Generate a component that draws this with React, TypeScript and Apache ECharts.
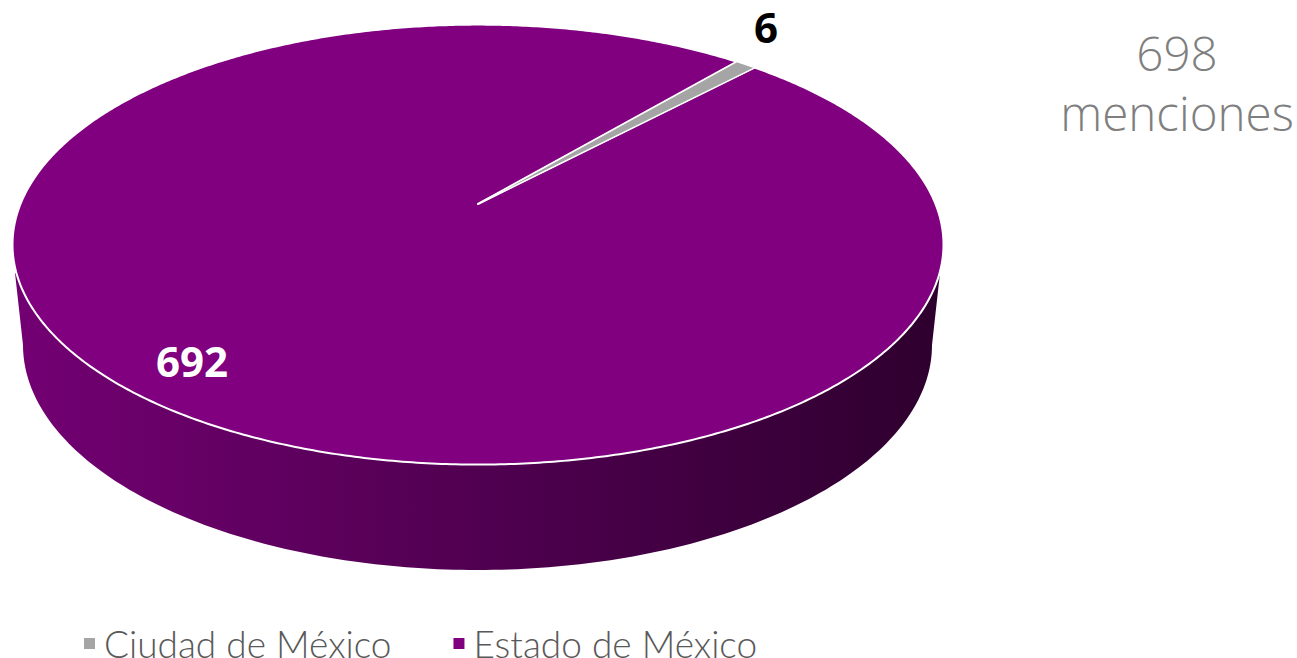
import React, { useEffect, useRef } from "react";
import * as echarts from "echarts";

const categories = ["Ciudad de México", "Estado de México"];
const values = [6, 692];
const sliceColors = ["#a5a5a5", "#800080"];
const labelColors = ["#000000", "#ffffff"];
const totalLines = ["698", "menciones"];

const START_DEG = 40.2;
// Perspective model of the pie's top disc
const APEX = { x: 478, y: 204 };
const P = 0.1845;
const A = 457.5;
const B = 212.5;
const TOP = { cx: 477.5, cy: 244.5, rx: 464.5, ry: 219.5 };
const BOTTOM = { cx: 477.5, cy: 345, rx: 454.5, ry: 225 };
const LABEL_POS = [
  { x: 766, y: 26 },
  { x: 192, y: 360 },
];
const STROKE_WIDTHS = [1.1, 2];

const project = (deg: number) => {
  const t = (deg * Math.PI) / 180;
  const u = Math.sin(t);
  const v = Math.cos(t);
  const w = 1 + P * v;
  return [APEX.x + (A * u) / w, APEX.y - (B * v) / w];
};

const total = values.reduce((s, v) => s + v, 0);

const makeRenderItem = (index: number) => (_params: any, api: any) => {
  const value = api.value(0);
  const before = values.slice(0, index).reduce((s, v) => s + v, 0);
  const a0 = START_DEG + (before / total) * 360;
  const a1 = a0 + (value / total) * 360;
  const pts: number[][] = [[APEX.x, APEX.y]];
  const steps = Math.max(4, Math.round((a1 - a0) * 2));
  for (let i = 0; i <= steps; i++) pts.push(project(a0 + ((a1 - a0) * i) / steps));

  const children: any[] = [];
  // The wall is only visible under the slice that covers the front of the pie.
  if (a0 < 90 && a1 > 270) {
    const wall: number[][] = [];
    for (let d = 0; d <= 180; d += 1) {
      const t = (d * Math.PI) / 180;
      wall.push([BOTTOM.cx + BOTTOM.rx * Math.cos(t), BOTTOM.cy + BOTTOM.ry * Math.sin(t)]);
    }
    wall.push([15, 273]);
    wall.push([TOP.cx, TOP.cy]);
    wall.push([940, 273]);
    children.push({
      type: "polygon",
      shape: { points: wall },
      style: {
        fill: new echarts.graphic.LinearGradient(0, 0, 1, 0, [
          { offset: 0, color: "#730073" },
          { offset: 1, color: "#2e002e" },
        ]),
      },
    });
  }
  children.push({
    type: "polygon",
    shape: { points: pts },
    style: { fill: sliceColors[index], stroke: "#ffffff", lineWidth: STROKE_WIDTHS[index], lineJoin: "round" },
  });
  children.push({
    type: "text",
    x: LABEL_POS[index].x,
    y: LABEL_POS[index].y,
    style: {
      text: String(value),
      fill: labelColors[index],
      font: 'bold 42px "Open Sans"',
      lineHeight: 40,
      textAlign: "center",
      textVerticalAlign: "middle",
    },
  });
  return { type: "group", children };
};

export default function App() {
  const ref = useRef<HTMLDivElement>(null);
  useEffect(() => {
    const chart = echarts.init(ref.current!, undefined, { renderer: "svg" });
    const order = [1, 0];
    chart.setOption({
      animation: false,
      backgroundColor: "#ffffff",
      legend: {
        data: categories,
        left: 79,
        top: 620,
        icon: "rect",
        itemWidth: 11,
        itemHeight: 11,
        itemGap: 62,
        textStyle: {
          fontFamily: "Lato",
          fontWeight: 300,
          fontSize: 37,
          lineHeight: 24,
          color: "#595959",
          padding: [0, 0, 0, 4],
        },
      },
      graphic: totalLines.map((text, i) => ({
        type: "text",
        x: 1177,
        y: 52 + i * 60.5,
        style: {
          text,
          fill: "#7f7f7f",
          font: '300 47.5px "Open Sans"',
          textAlign: "center",
          textVerticalAlign: "middle",
        },
      })),
      series: order.map((i) => ({
        type: "custom",
        name: categories[i],
        coordinateSystem: "none",
        itemStyle: { color: sliceColors[i] },
        data: [[values[i]]],
        renderItem: makeRenderItem(i),
      })),
    });
    return () => chart.dispose();
  }, []);
  return <div ref={ref} style={{ position: "absolute", left: 0, top: 0, width: 1297, height: 658 }} />;
}
